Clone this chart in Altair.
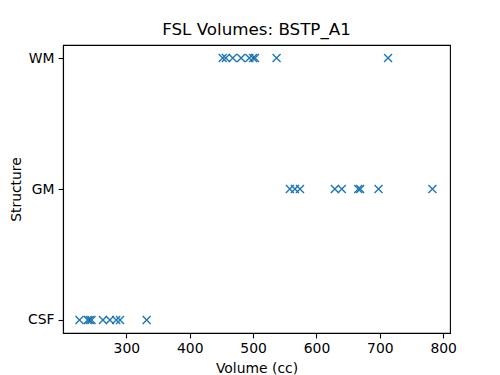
import altair as alt
import pandas as pd

structures = ["WM", "GM", "CSF"]
wm_volumes = [452, 457, 468, 481, 494, 500, 503, 537, 713]
gm_volumes = [558, 566, 574, 629, 640, 666, 669, 698, 783]
csf_volumes = [226, 239, 242, 245, 263, 274, 284, 290, 332]
x_ticks = [300, 400, 500, 600, 700, 800]

rows = []
for s, vals in zip(structures, [wm_volumes, gm_volumes, csf_volumes]):
    for v in vals:
        rows.append({"Structure": s, "Volume": v})
df = pd.DataFrame(rows)

font = "DejaVu Sans"
xshape = "M-1,-1L1,1M1,-1L-1,1"

chart = alt.Chart(df).mark_point(
    shape=xshape, size=64, filled=False, strokeWidth=1.4, color="#1f77b4", opacity=1
).encode(
    x=alt.X("Volume:Q",
            scale=alt.Scale(domain=[200, 810.75], nice=False, zero=False),
            axis=alt.Axis(title="Volume (cc)", values=x_ticks, grid=False)),
    y=alt.Y("Structure:N", sort=structures,
            scale=alt.Scale(padding=0.1),
            axis=alt.Axis(title="Structure", grid=False)),
).properties(
    width=387, height=288,
    autosize=alt.AutoSizeParams(type="none"),
    padding={"left": 55, "top": 37, "right": 42, "bottom": 42},
    title=alt.TitleParams("FSL Volumes: BSTP_A1", fontSize=16.7, font=font,
                          fontWeight="normal", color="black", offset=6),
).configure_view(
    stroke="black", strokeWidth=1.1
).configure_axis(
    domainColor="black", domainWidth=1.1, tickColor="black", tickSize=4.9, tickWidth=1.1,
    labelColor="black", labelFont=font, labelFontSize=13.9, labelPadding=4,
    titleColor="black", titleFont=font, titleFontSize=13.9, titleFontWeight="normal",
).configure_axisX(titlePadding=6).configure_axisY(titlePadding=4)

chart.save("out.html", embed_options={"renderer": "svg", "actions": False})
